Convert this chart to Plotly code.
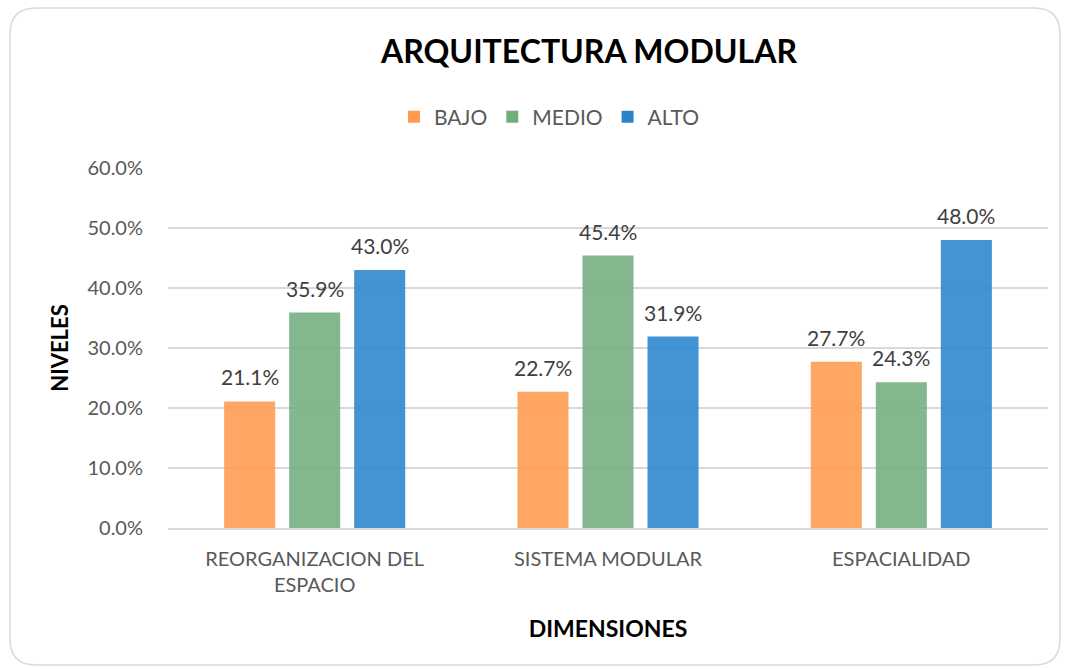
import plotly.graph_objects as go

# data
dimensiones = ['REORGANIZACION DEL<br>ESPACIO', 'SISTEMA MODULAR', 'ESPACIALIDAD']
bajo = [0.211, 0.227, 0.277]
medio = [0.359, 0.454, 0.243]
alto = [0.430, 0.319, 0.480]
y_ticks = [0, 0.1, 0.2, 0.3, 0.4, 0.5, 0.6]

series = [('BAJO', bajo, '#FF9A4F'), ('MEDIO', medio, '#72AD7E'), ('ALTO', alto, '#2A84CC')]

W, H = 1065, 669
L, R, T, B = 168, 17, 168, 141
pw, ph = W - L - R, H - T - B
BARGAP, GROUPGAP = 0.335, 0.215
slot = pw / len(dimensiones) * (1 - BARGAP) / len(series)

def px(x):
    return (x - L) / pw

def py(y):
    return (H - B - y) / ph

fig = go.Figure()
for i, (name, vals, col) in enumerate(series):
    fig.add_trace(go.Bar(
        x=dimensiones, y=vals, name=name,
        marker=dict(color=col, opacity=0.88, line=dict(width=0)),
    ))
    # value labels sit a little above each bar
    for cat, v in zip(dimensiones, vals):
        fig.add_annotation(x=cat, y=v, text=f'{v*100:.1f}%', showarrow=False,
                           xshift=(i - 1) * slot, yshift=10, yanchor='bottom',
                           font=dict(size=21, color='#404040'))

# rounded outer border of the chart
x0, x1, y0, y1, r = 10, 1060, 8, 665, 26
path = (f'M {px(x0 + r)},{py(y0)} L {px(x1 - r)},{py(y0)} '
        f'Q {px(x1)},{py(y0)} {px(x1)},{py(y0 + r)} '
        f'L {px(x1)},{py(y1 - r)} Q {px(x1)},{py(y1)} {px(x1 - r)},{py(y1)} '
        f'L {px(x0 + r)},{py(y1)} Q {px(x0)},{py(y1)} {px(x0)},{py(y1 - r)} '
        f'L {px(x0)},{py(y0 + r)} Q {px(x0)},{py(y0)} {px(x0 + r)},{py(y0)} Z')
fig.add_shape(type='path', xref='paper', yref='paper', path=path,
              line=dict(color='#D9D9D9', width=1.5), layer='below')

fig.update_layout(
    width=W, height=H,
    margin=dict(l=L, r=R, t=T, b=B),
    paper_bgcolor='white', plot_bgcolor='white',
    font=dict(family='Lato, Open Sans, sans-serif', size=20, color='#595959'),
    title=dict(text='<b>ARQUITECTURA MODULAR</b>', x=589 / W, xanchor='center',
               y=1 - 52 / H, yanchor='middle',
               font=dict(size=32, color='black')),
    barmode='group', bargap=BARGAP, bargroupgap=GROUPGAP,
    legend=dict(orientation='h', x=px(394), xanchor='left', y=py(117), yanchor='middle',
                font=dict(size=21, color='#595959'), itemwidth=30, traceorder='normal'),
    xaxis=dict(showgrid=False, showline=True, linecolor='#D9D9D9', linewidth=1.5,
               ticks='', ticklabelstandoff=12, tickfont=dict(size=20, color='#595959'),
               title=dict(text='<b>DIMENSIONES</b>', font=dict(size=23, color='black'), standoff=26)),
    yaxis=dict(range=[0, 0.6], tickvals=y_ticks, tickformat='.1%',
               showgrid=True, gridcolor='#D9D9D9', gridwidth=1.5, zeroline=False,
               ticks='', ticklabelstandoff=24,
               tickfont=dict(size=20, color='#595959'),
               title=dict(text='<b>NIVELES</b>', font=dict(size=22, color='black'), standoff=12)),
)

fig.write_html('out.html', config={'displayModeBar': False},
               post_script="document.body.style.margin='0';")
